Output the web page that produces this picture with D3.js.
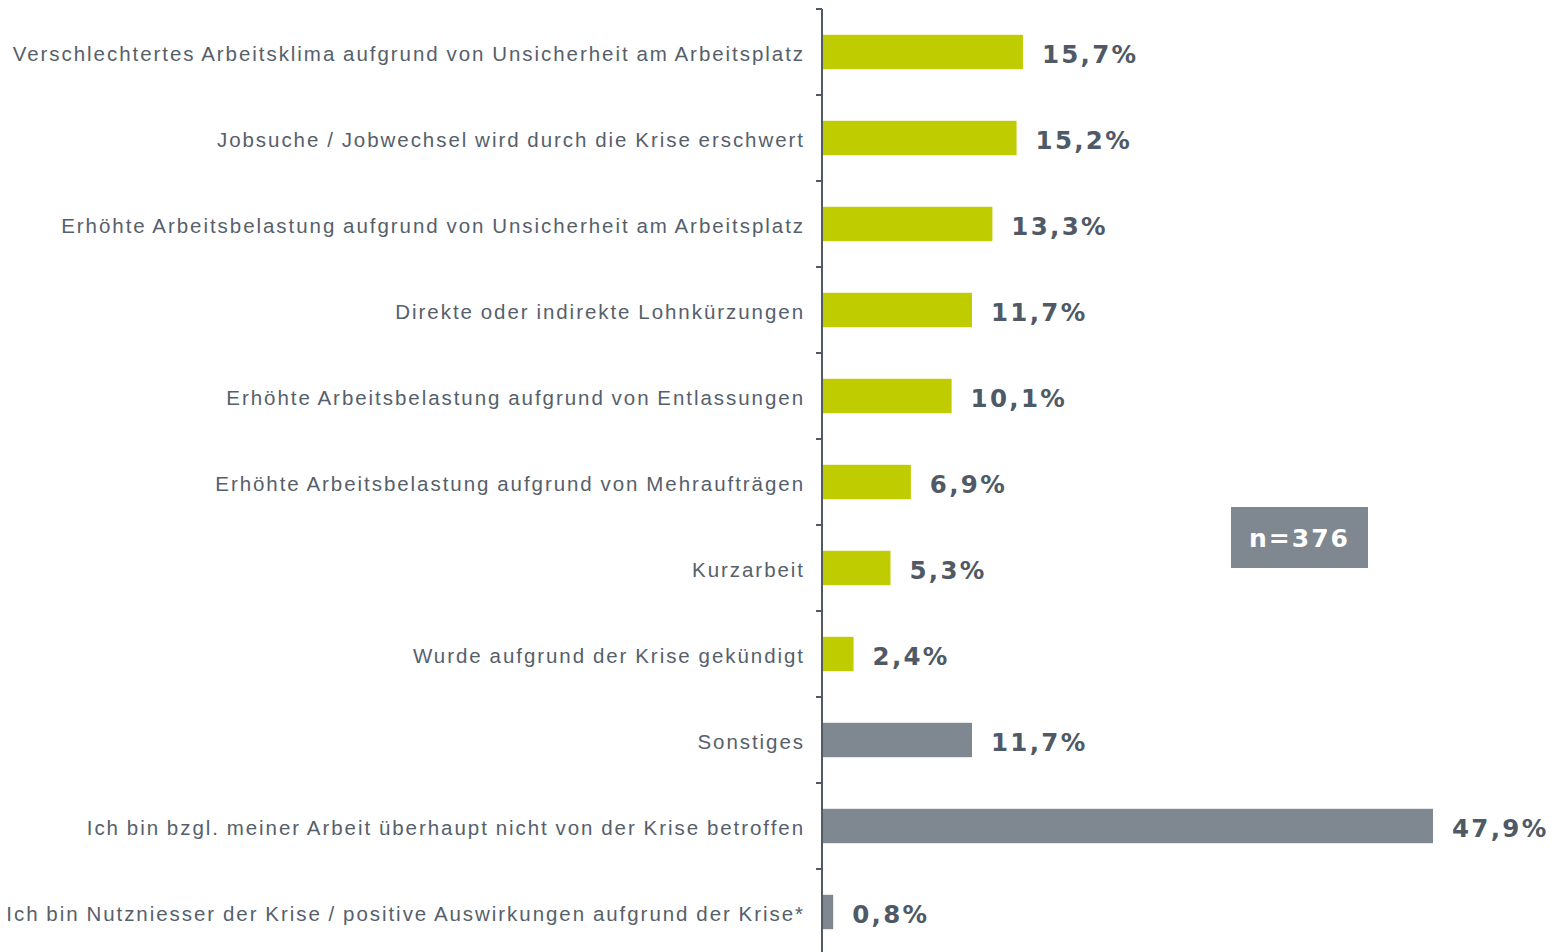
<!DOCTYPE html>
<html>
<head>
<meta charset="utf-8">
<script src="https://cdn.jsdelivr.net/npm/d3@7"></script>
<style>
	body { margin: 0; background: #fff; }
	.catLabel { font-family: "Liberation Sans", Arial, sans-serif; font-size: 20.5px; fill: #56606b; letter-spacing: 1.95px; word-spacing: -0.8px; }
	.valLabel { font-family: "DejaVu Sans", sans-serif; font-weight: bold; font-size: 24.5px; fill: #4f5a66; letter-spacing: 2.3px; }
	.nLabel { font-family: "DejaVu Sans", sans-serif; font-weight: bold; font-size: 25px; fill: #fff; letter-spacing: 2px; }
</style>
</head>
<body>
<div id="chart"></div>
<script>
// Data
const categories = [
	"Verschlechtertes Arbeitsklima aufgrund von Unsicherheit am Arbeitsplatz",
	"Jobsuche / Jobwechsel wird durch die Krise erschwert",
	"Erhöhte Arbeitsbelastung aufgrund von Unsicherheit am Arbeitsplatz",
	"Direkte oder indirekte Lohnkürzungen",
	"Erhöhte Arbeitsbelastung aufgrund von Entlassungen",
	"Erhöhte Arbeitsbelastung aufgrund von Mehraufträgen",
	"Kurzarbeit",
	"Wurde aufgrund der Krise gekündigt",
	"Sonstiges",
	"Ich bin bzgl. meiner Arbeit überhaupt nicht von der Krise betroffen",
	"Ich bin Nutzniesser der Krise / positive Auswirkungen aufgrund der Krise*"
];
const values = [15.7, 15.2, 13.3, 11.7, 10.1, 6.9, 5.3, 2.4, 11.7, 47.9, 0.8];
const groups = ["neg", "neg", "neg", "neg", "neg", "neg", "neg", "neg", "other", "other", "other"];
const sampleSize = 376;

const svgWidth = 1557;
const svgHeight = 952;
const margin = { top: 9, left: 822 };

const colors = { neg: "#bfcd00", other: "#7f8790" };

const svg = d3.select("#chart")
	.append("svg")
	.attr("width", svgWidth)
	.attr("height", svgHeight);

const chartGroup = svg.append("g")
	.attr("transform", `translate(${margin.left}, ${margin.top})`);

// Scales
const yScale = d3.scaleBand()
	.domain(categories)
	.range([0, 86 * categories.length])
	.paddingInner(0.6)
	.paddingOuter(0.3);

const xScale = d3.scaleLinear()
	.domain([0, 47.9])
	.range([0, 610]);

// Bars
chartGroup.selectAll("rect.bar")
	.data(values)
	.enter()
	.append("rect")
	.classed("bar", true)
	.attr("x", 1)
	.attr("y", (d, i) => yScale(categories[i]))
	.attr("width", d => xScale(d))
	.attr("height", yScale.bandwidth())
	.attr("fill", (d, i) => colors[groups[i]]);

// Value labels
chartGroup.selectAll("text.valLabel")
	.data(values)
	.enter()
	.append("text")
	.classed("valLabel", true)
	.attr("x", d => xScale(d) + 20)
	.attr("y", (d, i) => yScale(categories[i]) + yScale.bandwidth() / 2 + 2)
	.attr("dy", "0.38em")
	.text(d => d3.format(".1f")(d).replace(".", ",") + "%");

// Category labels
chartGroup.selectAll("text.catLabel")
	.data(categories)
	.enter()
	.append("text")
	.classed("catLabel", true)
	.attr("x", -17)
	.attr("y", d => yScale(d) + yScale.bandwidth() / 2 + 2)
	.attr("dy", "0.36em")
	.attr("text-anchor", "end")
	.text(d => d);

// Axis line and ticks at band boundaries
chartGroup.append("line")
	.attr("x1", 0).attr("x2", 0)
	.attr("y1", 0).attr("y2", svgHeight)
	.attr("stroke", "#4f5a66")
	.attr("stroke-width", 2);

const step = yScale.step();
chartGroup.selectAll("line.tick")
	.data(d3.range(categories.length))
	.enter()
	.append("line")
	.classed("tick", true)
	.attr("x1", -6).attr("x2", 0)
	.attr("y1", i => yScale(categories[i]) - step * yScale.paddingInner() / 2)
	.attr("y2", i => yScale(categories[i]) - step * yScale.paddingInner() / 2)
	.attr("stroke", "#4f5a66")
	.attr("stroke-width", 2);

// n box
const nBox = svg.append("g")
	.attr("transform", "translate(1231, 507)");
nBox.append("rect")
	.attr("width", 137)
	.attr("height", 61)
	.attr("fill", "#7f8790");
nBox.append("text")
	.classed("nLabel", true)
	.attr("x", 68.5)
	.attr("y", 31)
	.attr("dy", "0.36em")
	.attr("text-anchor", "middle")
	.text(`n=${sampleSize}`);
</script>
</body>
</html>
